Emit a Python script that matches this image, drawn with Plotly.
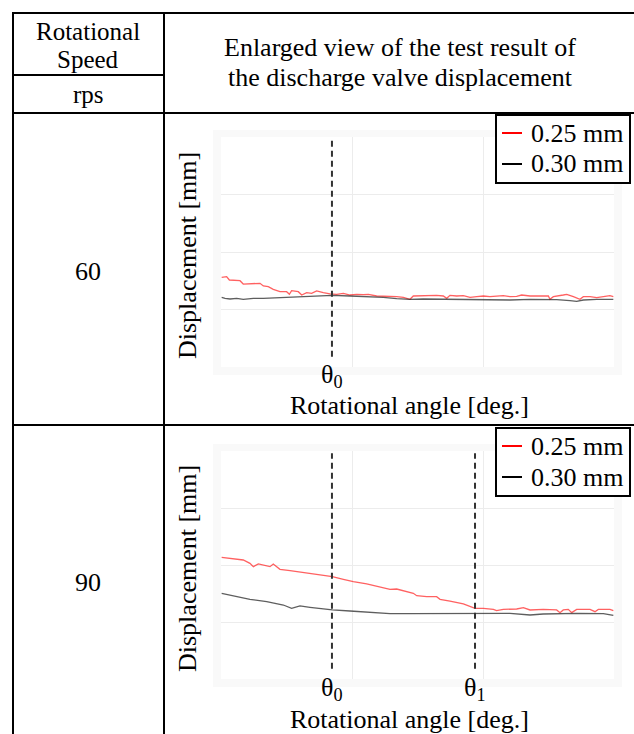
import plotly.graph_objects as go

W, H = 634, 734
FONT = "Liberation Serif, Times New Roman, serif"

# ---------------- data ----------------
speeds = ["60", "90"]
legend_labels = ["0.25 mm", "0.30 mm"]
header_left = ["Rotational", "Speed", "rps"]
header_right = ["Enlarged view of the test result of", "the discharge valve displacement"]
x_title = "Rotational angle [deg.]"
y_title = "Displacement [mm]"

# 60 rps
r1_x = [0.05, 0.43, 0.64, 1.45, 1.70, 2.47, 2.98, 3.23, 3.61, 3.99, 4.50, 5.01, 5.22, 5.39, 5.90,
        6.16, 6.54, 6.92, 7.30, 7.81, 8.32, 8.83, 9.34, 9.85, 10.36, 10.87, 11.25, 11.88, 12.65,
        13.41, 13.92, 14.43, 14.68, 15.44, 16.46, 16.97, 17.23, 17.48, 17.99, 18.50, 19.01, 19.52,
        20.03, 20.53, 21.04, 21.55, 22.06, 22.57, 22.95, 23.59, 24.60, 24.99, 25.11, 25.37, 26.13,
        26.39, 26.90, 27.40, 27.66, 28.17, 28.68, 29.19, 29.69, 29.95]
r1_y = [1.560, 1.571, 1.513, 1.501, 1.443, 1.455, 1.455, 1.409, 1.397, 1.351, 1.310, 1.310, 1.264,
        1.328, 1.310, 1.252, 1.293, 1.281, 1.322, 1.293, 1.270, 1.264, 1.281, 1.252, 1.264, 1.258,
        1.264, 1.235, 1.235, 1.223, 1.212, 1.177, 1.235, 1.241, 1.246, 1.235, 1.194, 1.246, 1.235,
        1.241, 1.212, 1.223, 1.235, 1.223, 1.235, 1.241, 1.223, 1.229, 1.252, 1.235, 1.235, 1.235,
        1.177, 1.223, 1.252, 1.264, 1.223, 1.177, 1.223, 1.223, 1.206, 1.223, 1.241, 1.223]
k1_x = [0.05, 0.31, 0.69, 1.20, 1.70, 2.47, 3.23, 4.25, 5.52, 6.79, 8.50, 9.85, 11.37, 12.39,
        13.41, 14.43, 15.44, 16.97, 18.50, 20.03, 22.06, 23.59, 24.60, 25.62, 26.64, 27.15, 27.66,
        28.68, 29.95]
k1_y = [1.212, 1.194, 1.183, 1.194, 1.177, 1.194, 1.194, 1.206, 1.223, 1.235, 1.246, 1.235, 1.223,
        1.212, 1.188, 1.177, 1.183, 1.177, 1.177, 1.177, 1.165, 1.177, 1.177, 1.171, 1.154, 1.142,
        1.165, 1.177, 1.177]

# 90 rps
r2_x = [0.05, 0.94, 1.70, 2.21, 2.47, 2.85, 3.49, 3.74, 3.99, 4.50, 5.27, 6.28, 7.30, 8.50, 9.34,
        10.10, 11.12, 12.14, 12.90, 13.41, 13.92, 14.68, 14.94, 15.70, 16.46, 16.72, 17.48, 18.50,
        19.39, 20.03, 20.79, 21.04, 21.55, 22.57, 23.08, 23.59, 24.60, 25.62, 25.88, 26.13, 26.51,
        26.77, 27.15, 28.17, 28.55, 28.80, 29.69, 29.95]
r2_y = [2.134, 2.105, 2.088, 2.029, 1.971, 2.018, 1.988, 1.971, 2.018, 1.924, 1.901, 1.871, 1.842,
        1.795, 1.749, 1.708, 1.667, 1.620, 1.573, 1.579, 1.544, 1.503, 1.462, 1.444, 1.444, 1.398,
        1.368, 1.316, 1.240, 1.240, 1.222, 1.199, 1.222, 1.228, 1.251, 1.211, 1.222, 1.211, 1.164,
        1.211, 1.222, 1.164, 1.222, 1.222, 1.181, 1.222, 1.222, 1.199]
k2_x = [0.05, 1.20, 2.21, 3.49, 4.76, 5.39, 6.03, 6.79, 7.81, 8.50, 9.85, 11.37, 12.90, 14.43,
        16.46, 17.48, 19.39, 20.79, 22.06, 23.59, 24.60, 27.15, 29.19, 29.95]
k2_y = [1.503, 1.444, 1.398, 1.357, 1.298, 1.240, 1.281, 1.257, 1.228, 1.211, 1.193, 1.164, 1.146,
        1.146, 1.146, 1.152, 1.152, 1.146, 1.152, 1.123, 1.140, 1.152, 1.146, 1.117]

theta_row1 = [8.47]
theta_row2 = [8.47, 19.39]
theta_labels = ["θ<sub>0</sub>", "θ<sub>1</sub>"]

x_grid = [0, 10, 20, 30]
y_grid = [0, 1, 2, 3, 4]

RED = "rgba(255,30,30,0.7)"
BLK = "rgba(40,40,40,0.75)"


def px(x):
    return x / W


def py(y):
    return 1 - y / H


fig = go.Figure()
fig.add_trace(go.Scatter(x=r1_x, y=r1_y, mode="lines", line=dict(color=RED, width=1.3),
                         xaxis="x", yaxis="y", showlegend=False))
fig.add_trace(go.Scatter(x=k1_x, y=k1_y, mode="lines", line=dict(color=BLK, width=1.3),
                         xaxis="x", yaxis="y", showlegend=False))
fig.add_trace(go.Scatter(x=r2_x, y=r2_y, mode="lines", line=dict(color=RED, width=1.3),
                         xaxis="x2", yaxis="y2", showlegend=False))
fig.add_trace(go.Scatter(x=k2_x, y=k2_y, mode="lines", line=dict(color=BLK, width=1.3),
                         xaxis="x2", yaxis="y2", showlegend=False))

ax_common = dict(showticklabels=False, ticks="", zeroline=False, showline=False,
                 showgrid=True, gridcolor="#ececec", gridwidth=1, fixedrange=True)
xdom = [px(221), px(614)]
fig.update_layout(
    width=W, height=H, margin=dict(l=0, r=0, t=0, b=0),
    paper_bgcolor="white", plot_bgcolor="white",
    xaxis=dict(domain=xdom, range=[0, 30], tickvals=x_grid, anchor="y", **ax_common),
    yaxis=dict(domain=[py(367), py(137)], range=[0, 4], tickvals=y_grid, anchor="x", **ax_common),
    xaxis2=dict(domain=xdom, range=[0, 30], tickvals=x_grid, anchor="y2", **ax_common),
    yaxis2=dict(domain=[py(679), py(451)], range=[0, 4], tickvals=y_grid, anchor="x2", **ax_common),
    showlegend=False,
)

shapes = []
annotations = []

# faint outer panels with white plot areas inside
for top, bot, ptop, pbot in [(130, 375, 137, 367), (444, 687, 451, 679)]:
    shapes.append(dict(type="rect", xref="paper", yref="paper", x0=px(213), x1=px(622),
                       y0=py(bot), y1=py(top), fillcolor="#f9f9f9", line=dict(width=0), layer="below"))
    shapes.append(dict(type="rect", xref="paper", yref="paper", x0=px(221), x1=px(614),
                       y0=py(pbot), y1=py(ptop), fillcolor="white", line=dict(width=0), layer="below"))


# table lines
def hline(y, x0, x1):
    shapes.append(dict(type="line", xref="paper", yref="paper", x0=px(x0), x1=px(x1),
                       y0=py(y), y1=py(y), line=dict(color="black", width=2)))


def vline(x, y0, y1):
    shapes.append(dict(type="line", xref="paper", yref="paper", x0=px(x), x1=px(x),
                       y0=py(y0), y1=py(y1), line=dict(color="black", width=2)))


hline(13, 12, 640)
hline(75, 13, 164)
hline(113, 13, 640)
hline(425, 13, 640)
vline(13, 12, 740)
vline(164, 12, 740)

# dashed theta lines
for xr, yr, thetas in [("x", "y domain", theta_row1), ("x2", "y2 domain", theta_row2)]:
    for t in thetas:
        shapes.append(dict(type="line", xref=xr, yref=yr, x0=t, x1=t, y0=0.045, y1=0.99,
                           line=dict(color="#333333", width=2, dash="6px,4px")))


def text(s, x, y, size=26, xanchor="center", textangle=0):
    annotations.append(dict(text=s, x=px(x), y=py(y), xref="paper", yref="paper",
                            showarrow=False, xanchor=xanchor, yanchor="middle",
                            textangle=textangle, font=dict(family=FONT, size=size, color="black")))


# header
text(header_left[0], 88, 31, size=25)
text(header_left[1], 88, 59, size=25)
text(header_left[2], 88, 94, size=25)
text(header_right[0], 400, 47, size=26)
text(header_right[1], 400, 77, size=26)

# row labels
text(speeds[0], 88, 271, size=26)
text(speeds[1], 88, 582, size=26)

# axis titles and theta labels
for top_off, thetas, xref in [(0, theta_row1, "x"), (313, theta_row2, "x2")]:
    text(y_title, 187, 256 + top_off, textangle=-90)
    text(x_title, 409, 406 + top_off)
    for i, t in enumerate(thetas):
        annotations.append(dict(text=theta_labels[i], x=t, y=py(376 + top_off), xref=xref,
                                yref="paper", showarrow=False, xanchor="center", yanchor="middle",
                                font=dict(family=FONT, size=26, color="black")))

# manual legends
for off in [0, 313]:
    shapes.append(dict(type="rect", xref="paper", yref="paper", x0=px(496), x1=px(630),
                       y0=py(183 + off), y1=py(115 + off), fillcolor="white",
                       line=dict(color="black", width=2)))
    for i, (lab, col) in enumerate(zip(legend_labels, ["red", "black"])):
        yy = 133 + off + i * 31
        shapes.append(dict(type="line", xref="paper", yref="paper", x0=px(502), x1=px(522),
                           y0=py(yy), y1=py(yy), line=dict(color=col, width=2)))
        text(lab, 529, yy, size=26, xanchor="left")

fig.update_layout(shapes=shapes, annotations=annotations)
fig.write_html("out.html")
